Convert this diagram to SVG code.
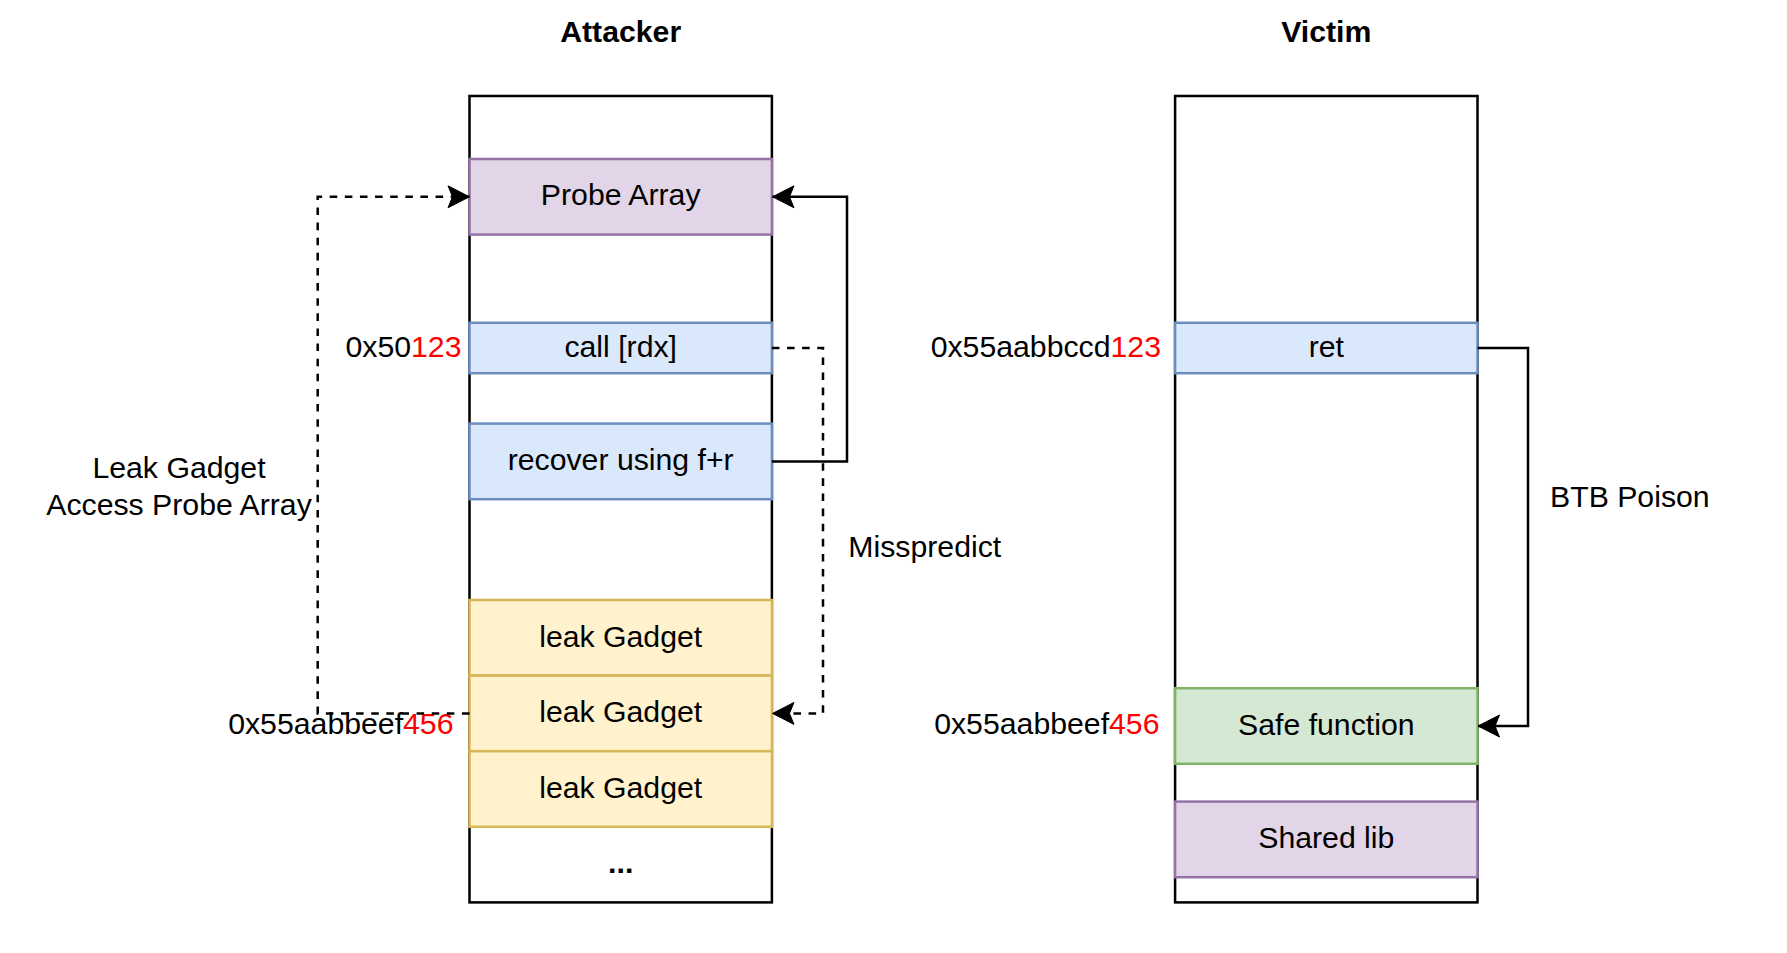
<svg xmlns="http://www.w3.org/2000/svg" width="1787" height="953" viewBox="0 0 1787 953">
<defs>
<style>
text{font-family:"Liberation Sans",Arial,sans-serif;font-size:30.24px;fill:#000}
.t{font-weight:bold}
.c{text-anchor:middle}
.e{text-anchor:end}
.red{fill:#FF0000}
.outer{fill:#fff;stroke:#000;stroke-width:2.52}
.purple{fill:#e1d5e7;stroke:#9673a6;stroke-width:2.52}
.blue{fill:#dae8fc;stroke:#6c8ebf;stroke-width:2.52}
.yellow{fill:#fff2cc;stroke:#d6b656;stroke-width:2.52}
.green{fill:#d5e8d4;stroke:#82b366;stroke-width:2.52}
.line{fill:none;stroke:#000;stroke-width:2.52;marker-end:url(#arr)}
.dash{stroke-dasharray:7.56 7.56}
</style>
<marker id="arr" viewBox="-23 -12 24 24" refX="0" refY="0" markerWidth="24" markerHeight="24" markerUnits="userSpaceOnUse" orient="auto">
<path d="M0 0 L-21.5 -11 L-17 0 L-21.5 11 Z" fill="#000" stroke="#000" stroke-width="1"/>
</marker>
</defs>
<rect width="1787" height="953" fill="#fff"/>

<g id="attacker">
<text class="t c" x="620.7" y="41.7">Attacker</text>
<rect class="outer" x="469.5" y="96" width="302.4" height="806.4"/>
</g>
<g id="probe-array">
<rect class="purple" x="469.5" y="159" width="302.4" height="75.6"/>
<text class="c" x="620.7" y="205.3">Probe Array</text>
</g>
<g id="call-rdx">
<rect class="blue" x="469.5" y="322.8" width="302.4" height="50.4"/>
<text class="c" x="620.7" y="356.7">call [rdx]</text>
<text class="e" x="461.5" y="357">0x50<tspan class="red">123</tspan></text>
</g>
<g id="recover">
<rect class="blue" x="469.5" y="423.6" width="302.4" height="75.6"/>
<text class="c" x="620.7" y="470">recover using f+r</text>
</g>
<g id="leak-gadget-1">
<rect class="yellow" x="469.5" y="600" width="302.4" height="75.6"/>
<text class="c" x="620.7" y="646.5">leak Gadget</text>
</g>
<g id="leak-gadget-2">
<rect class="yellow" x="469.5" y="675.6" width="302.4" height="75.6"/>
<text class="c" x="620.7" y="722">leak Gadget</text>
<text class="e" x="453.5" y="734">0x55aabbeef<tspan class="red">456</tspan></text>
</g>
<g id="leak-gadget-3">
<rect class="yellow" x="469.5" y="751.2" width="302.4" height="75.6"/>
<text class="c" x="620.7" y="797.6">leak Gadget</text>
</g>
<g id="ellipsis">
<text class="t c" x="620.7" y="872.7">...</text>
</g>

<g id="victim">
<text class="t c" x="1326.3" y="41.7">Victim</text>
<rect class="outer" x="1175.1" y="96" width="302.4" height="806.4"/>
</g>
<g id="ret">
<rect class="blue" x="1175.1" y="322.8" width="302.4" height="50.4"/>
<text class="c" x="1326.3" y="356.7">ret</text>
<text class="e" x="1161" y="357">0x55aabbccd<tspan class="red">123</tspan></text>
</g>
<g id="safe-function">
<rect class="green" x="1175.1" y="688.2" width="302.4" height="75.6"/>
<text class="c" x="1326.3" y="734.5">Safe function</text>
<text class="e" x="1159.5" y="734">0x55aabbeef<tspan class="red">456</tspan></text>
</g>
<g id="shared-lib">
<rect class="purple" x="1175.1" y="801.6" width="302.4" height="75.6"/>
<text class="c" x="1326.3" y="848">Shared lib</text>
</g>

<g id="connectors">
<path class="line dash" d="M469.5 713.4 L317.7 713.4 L317.7 196.8 L469.5 196.8"/>
<path class="line" d="M771.9 461.4 L847 461.4 L847 196.8 L772.5 196.8"/>
<path class="line dash" d="M771.9 348 L823 348 L823 713.4 L772.5 713.4"/>
<path class="line" d="M1477.5 348 L1528 348 L1528 726 L1478 726"/>
<text class="c" x="179" y="478.3">Leak Gadget</text>
<text class="c" x="179" y="515">Access Probe Array</text>
<text x="848.3" y="556.7">Misspredict</text>
<text x="1550" y="507.3">BTB Poison</text>
</g>
</svg>
